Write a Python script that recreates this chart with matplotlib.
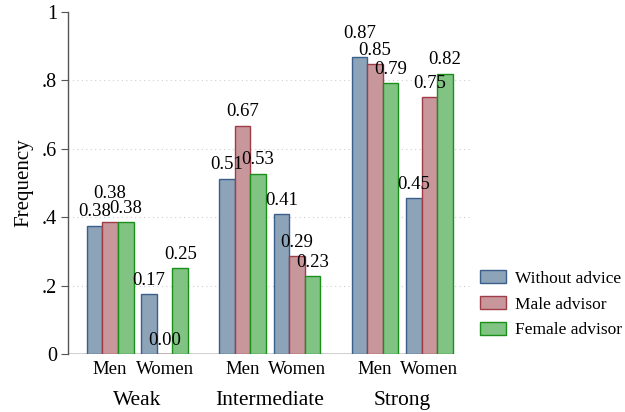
import numpy as np
import matplotlib.pyplot as plt

plt.rcParams['font.family'] = ['Liberation Serif', 'DejaVu Serif']

# Data
groups = ["Weak", "Intermediate", "Strong"]
genders = ["Men", "Women"]
series = ["Without advice", "Male advisor", "Female advisor"]
without_advice = [0.375, 0.175, 0.512, 0.409, 0.869, 0.455]
male_advisor = [0.385, 0.0, 0.667, 0.285, 0.847, 0.750]
female_advisor = [0.385, 0.25, 0.527, 0.228, 0.792, 0.819]
labels = [
    ["0.38", "0.17", "0.51", "0.41", "0.87", "0.45"],
    ["0.38", "0.00", "0.67", "0.29", "0.85", "0.75"],
    ["0.38", "0.25", "0.53", "0.23", "0.79", "0.82"],
]

fills = ["#8ca3b8", "#c8979c", "#80c383"]
edges = ["#3a5f8a", "#a03c48", "#1a8f1a"]

# a couple of labels sit higher above their bar in the original
raised = {(1, 0): 21, (0, 4): 17}

# x layout: men/women pairs within a group, wider gap between groups
centers = np.array([0, 3.5, 8.5, 12.0, 17.0, 20.5])
width = 1.0

fig = plt.figure(figsize=(6.25, 4.12), dpi=100)
ax = fig.add_axes([0.109, 0.141, 0.643, 0.83])

values = [without_advice, male_advisor, female_advisor]
for k, (vals, fc, ec, name) in enumerate(zip(values, fills, edges, series)):
    xs = centers + (k - 1) * width
    ax.bar(xs, vals, width=width, color=fc, edgecolor=ec, linewidth=1.0,
           label=name, zorder=3)
    for j, (x, v, lab) in enumerate(zip(xs, vals, labels[k])):
        off = raised.get((k, j), 10)
        ax.annotate(lab, (x, v), xytext=(0, off), textcoords="offset points",
                    ha="center", va="center", fontsize=13.5, zorder=4)

ax.set_xlim(-2.7, 23.1)
ax.set_ylim(0, 1)

yt = [0, 0.2, 0.4, 0.6, 0.8, 1.0]
ax.set_yticks(yt)
ax.set_yticklabels(["0", ".2", ".4", ".6", ".8", "1"], fontsize=14.5)
for y in yt[:-1]:
    ax.axhline(y, color="#d0d0d0", linestyle=(0, (1, 3)), linewidth=0.8, zorder=1)
ax.hlines(0, -2.7, centers[-1] + 1.5 * width, color="#c8c8c8", linewidth=1.2, zorder=2)

ax.set_xticks(centers)
ax.set_xticklabels(genders * 3, fontsize=13.5)
ax.tick_params(axis="x", length=0, pad=5)
ax.tick_params(axis="y", length=5, width=0.8, color="#555555", pad=3)

for i, g in enumerate(groups):
    ax.text((centers[2 * i] + centers[2 * i + 1]) / 2, -0.135, g,
            transform=ax.get_xaxis_transform(), ha="center", va="center", fontsize=15.5)

ax.set_ylabel("Frequency", fontsize=15, labelpad=6)

for s in ["top", "right", "bottom"]:
    ax.spines[s].set_visible(False)
ax.spines["left"].set_color("#555555")
ax.spines["left"].set_linewidth(1.0)

ax.legend(loc="center left", bbox_to_anchor=(0.995, 0.145), frameon=False,
          fontsize=12.5, handlelength=1.5, handleheight=0.75, handletextpad=0.5,
          labelspacing=0.55, borderaxespad=0.3)

fig.savefig("out.png", dpi=100)
